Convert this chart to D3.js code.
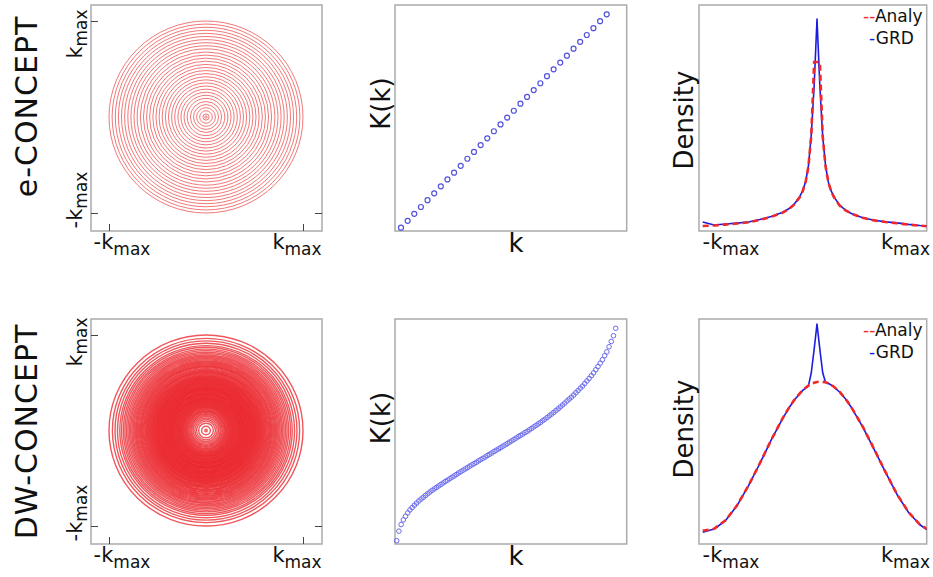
<!DOCTYPE html>
<html>
<head>
<meta charset="utf-8">
<script src="https://cdn.jsdelivr.net/npm/d3@7"></script>
<style>
  body { margin: 0; background: #fff; }
  svg { display: block; font-family: "DejaVu Sans", sans-serif; }
</style>
</head>
<body>
<div id="chart"></div>
<script>
// K(k) for e-CONCEPT (equal spacing), normalised to kmax
const eK = [0.000, 0.032, 0.065, 0.097, 0.129, 0.161, 0.194, 0.226, 0.258, 0.290, 0.323, 0.355,
  0.387, 0.419, 0.452, 0.484, 0.516, 0.548, 0.581, 0.613, 0.645, 0.677, 0.710, 0.742,
  0.774, 0.806, 0.839, 0.871, 0.903, 0.935, 0.968, 1.000];

// K(k) for DW-CONCEPT (density weighted), normalised to kmax
const dwK = [0.000, 0.045, 0.076, 0.098, 0.115, 0.131, 0.145, 0.156, 0.167, 0.177,
  0.187, 0.196, 0.204, 0.213, 0.221, 0.229, 0.237, 0.244, 0.251, 0.258,
  0.265, 0.272, 0.279, 0.285, 0.292, 0.299, 0.305, 0.312, 0.319, 0.325,
  0.332, 0.338, 0.344, 0.351, 0.357, 0.363, 0.369, 0.376, 0.382, 0.388,
  0.394, 0.401, 0.407, 0.413, 0.420, 0.426, 0.432, 0.438, 0.445, 0.451,
  0.457, 0.464, 0.470, 0.477, 0.483, 0.490, 0.496, 0.502, 0.509, 0.515,
  0.522, 0.529, 0.536, 0.543, 0.550, 0.557, 0.565, 0.572, 0.580, 0.588,
  0.596, 0.604, 0.613, 0.621, 0.630, 0.639, 0.648, 0.658, 0.667, 0.676,
  0.686, 0.697, 0.707, 0.718, 0.728, 0.740, 0.752, 0.764, 0.777, 0.790,
  0.805, 0.820, 0.836, 0.852, 0.871, 0.889, 0.913, 0.938, 0.965, 1.000];

// density profiles along k (in units of kmax)
const kGrid = [-1, -0.9, -0.8, -0.7, -0.6, -0.5, -0.4, -0.3, -0.25, -0.2, -0.15, -0.125, -0.1, -0.075, -0.05, -0.025,
  0, 0.025, 0.05, 0.075, 0.1, 0.125, 0.15, 0.2, 0.25, 0.3, 0.4, 0.5, 0.6, 0.7, 0.8, 0.9, 0.96];
const eAnaly = [0.014, 0.017, 0.021, 0.026, 0.032, 0.043, 0.058, 0.078, 0.093, 0.116, 0.152, 0.180, 0.222, 0.298, 0.445, 0.795,
  0.795, 0.795, 0.440, 0.298, 0.220, 0.178, 0.150, 0.110, 0.089, 0.073, 0.053, 0.041, 0.033, 0.027, 0.021, 0.016, 0.013];
const eGRD = [0.033, 0.019, 0.024, 0.028, 0.033, 0.045, 0.060, 0.080, 0.095, 0.118, 0.155, 0.183, 0.225, 0.300, 0.450, 0.680,
  1.000, 0.680, 0.440, 0.300, 0.222, 0.180, 0.152, 0.112, 0.090, 0.074, 0.054, 0.042, 0.034, 0.029, 0.022, 0.017, 0.015];
const dwAnaly = [0.025, 0.034, 0.074, 0.144, 0.237, 0.343, 0.454, 0.556, 0.601, 0.641, 0.673, 0.688, 0.699, 0.709, 0.717, 0.723,
  0.726, 0.728, 0.727, 0.725, 0.720, 0.713, 0.703, 0.679, 0.647, 0.608, 0.516, 0.410, 0.301, 0.197, 0.113, 0.054, 0.034];
const dwGRD = [0.018, 0.033, 0.073, 0.143, 0.236, 0.342, 0.453, 0.555, 0.600, 0.640, 0.672, 0.687, 0.698, 0.708, 0.770, 0.880,
  1.000, 0.880, 0.770, 0.724, 0.719, 0.712, 0.702, 0.678, 0.646, 0.607, 0.515, 0.409, 0.300, 0.196, 0.112, 0.053, 0.030];

const rowNames = ["e-CONCEPT", "DW-CONCEPT"];
const legendNames = ["Analy", "GRD"];

const width = 933, height = 577;
const cols = [{ x0: 91, x1: 322 }, { x0: 395, x1: 626.7 }, { x0: 699, x1: 926.7 }];

const rows = [
  { name: rowNames[0], K: eK, analy: eAnaly, grd: eGRD, y0: 5, y1: 231,
    nameY: 106.5, kLab: [34, 200], KkY: 103.5, densY: 120,
    scatX: [401, 606.7], densR: [-2, 14], ring: "#f27878", ringW: 1, ringO: 1,
    mark: { r: 2.5, c: "#5252dc", w: 1.2 } },
  { name: rowNames[1], K: dwK, analy: dwAnaly, grd: dwGRD, y0: 319, y1: 544,
    nameY: 431.5, kLab: [342, 513], KkY: 418, densY: 429,
    scatX: [396.7, 615.7], densR: [-8, 5], ring: "#ea1f25", ringW: 1.4, ringO: 0.75,
    mark: { r: 2.3, c: "#6a6aec", w: 1 } }
];

const svg = d3.select("#chart").append("svg").attr("width", width).attr("height", height);
const defs = svg.append("defs");

function kmax(g, x, y, neg, rotate, anchor) {
  const t = g.append("text")
    .attr("text-anchor", anchor || "middle")
    .attr("fill", "#111")
    .attr("transform", rotate ? `translate(${x},${y}) rotate(-90)` : `translate(${x},${y})`);
  t.append("tspan").style("font-size", "21px").text((neg ? "-" : "") + "k");
  t.append("tspan").style("font-size", "17px").attr("dy", rotate ? 5 : 6).text("max");
  return t;
}

rows.forEach((row, ri) => {
  const { y0, y1 } = row;

  // row title
  svg.append("text")
    .attr("transform", `translate(36.5,${row.nameY}) rotate(-90)`)
    .attr("text-anchor", "middle")
    .style("font-size", "30px")
    .style("letter-spacing", "1px")
    .attr("fill", "#111")
    .text(row.name);

  // frames
  cols.forEach(c => {
    svg.append("rect")
      .attr("x", c.x0).attr("y", y0)
      .attr("width", c.x1 - c.x0).attr("height", y1 - y0)
      .attr("fill", "none").attr("stroke", "#ababab").attr("stroke-width", 1.5);
  });

  // ---- trajectory rings ----
  const cx = d3.scaleLinear().domain([-1, 1]).range([109, 303]);
  const cy = d3.scaleLinear().domain([-1, 1]).range([y1 - 18, y0 + 16]);
  const g1 = svg.append("g");

  g1.append("g").attr("transform", `translate(${cols[0].x0},0)`)
    .call(d3.axisLeft(cy).tickValues([-1, 1]).tickSize(-7).tickFormat(""))
    .call(a => a.select(".domain").remove())
    .call(a => a.selectAll("line").attr("stroke", "#444"));
  g1.append("g").attr("transform", `translate(${cols[0].x1},0)`)
    .call(d3.axisRight(cy).tickValues([-1]).tickSize(-7).tickFormat(""))
    .call(a => a.select(".domain").remove())
    .call(a => a.selectAll("line").attr("stroke", "#444"));
  g1.append("g").attr("transform", `translate(0,${y1})`)
    .call(d3.axisBottom(cx).tickValues([-1, 1]).tickSize(-7).tickFormat(""))
    .call(a => a.select(".domain").remove())
    .call(a => a.selectAll("line").attr("stroke", "#444"));

  g1.selectAll("ellipse.ring")
    .data(row.K)
    .join("ellipse")
    .attr("class", "ring")
    .attr("cx", cx(0)).attr("cy", cy(0))
    .attr("rx", d => Math.max(1.2, cx(d) - cx(0)))
    .attr("ry", d => Math.max(1.2, cy(0) - cy(d)))
    .attr("fill", "none")
    .attr("stroke", row.ring)
    .attr("stroke-opacity", row.ringO)
    .attr("stroke-width", row.ringW);

  kmax(svg, 82, row.kLab[0], false, true);
  kmax(svg, 82, row.kLab[1], true, true);
  kmax(svg, 122, y1 + 18, true, false);
  kmax(svg, 297, y1 + 18, false, false);

  // ---- K(k) scatter ----
  const sx = d3.scaleLinear().domain([0, row.K.length - 1]).range(row.scatX);
  const sy = d3.scaleLinear().domain([0, 1]).range([y1 - 3.3, y0 + 9.3]);
  svg.append("g").selectAll("circle")
    .data(row.K)
    .join("circle")
    .attr("cx", (d, i) => sx(i))
    .attr("cy", d => sy(d))
    .attr("r", row.mark.r)
    .attr("fill", "none")
    .attr("stroke", row.mark.c)
    .attr("stroke-width", row.mark.w);

  svg.append("text")
    .attr("transform", `translate(390,${row.KkY}) rotate(-90)`)
    .attr("text-anchor", "middle")
    .style("font-size", "26px").attr("fill", "#111")
    .text("K(k)");
  svg.append("text")
    .attr("x", 516).attr("y", y1 + 21)
    .attr("text-anchor", "middle")
    .style("font-size", "26px").attr("fill", "#111")
    .text("k");

  // ---- density profiles ----
  const c3 = cols[2];
  const dx = d3.scaleLinear().domain([-1, 1]).range([702.7, 931.3]);
  const dy = d3.scaleLinear().domain([0, 1]).range([y1 + row.densR[0], y0 + row.densR[1]]);
  const clipId = "clip" + ri;
  defs.append("clipPath").attr("id", clipId)
    .append("rect").attr("x", c3.x0).attr("y", y0).attr("width", c3.x1 - c3.x0).attr("height", y1 - y0);

  const line = d3.line().x(d => dx(d[0])).y(d => dy(d[1]));
  const gd = svg.append("g").attr("clip-path", `url(#${clipId})`);
  gd.append("path")
    .datum(kGrid.map((k, i) => [k, row.grd[i]]))
    .attr("d", line)
    .attr("fill", "none").attr("stroke", "#1c1ce0").attr("stroke-width", 1.6)
    .attr("stroke-linejoin", "round");
  gd.append("path")
    .datum(kGrid.map((k, i) => [k, row.analy[i]]))
    .attr("d", line)
    .attr("fill", "none").attr("stroke", "#f02828").attr("stroke-width", 2.6)
    .attr("stroke-dasharray", "6,4");

  svg.append("text")
    .attr("transform", `translate(693,${row.densY}) rotate(-90)`)
    .attr("text-anchor", "middle")
    .style("font-size", "26px").attr("fill", "#111")
    .text("Density");

  kmax(svg, 731, y1 + 18, true, false);
  kmax(svg, 905.5, y1 + 18, false, false);

  // legend
  const lg = svg.append("g").style("font-size", "17px");
  const l1 = lg.append("text").attr("x", 863).attr("y", y0 + 17);
  l1.append("tspan").attr("fill", "#f02828").text("--");
  l1.append("tspan").attr("fill", "#111").text(legendNames[0]);
  const l2 = lg.append("text").attr("x", 869).attr("y", y0 + 39);
  l2.append("tspan").attr("fill", "#1c1ce0").text("-");
  l2.append("tspan").attr("fill", "#111").text(legendNames[1]);
});
</script>
</body>
</html>
